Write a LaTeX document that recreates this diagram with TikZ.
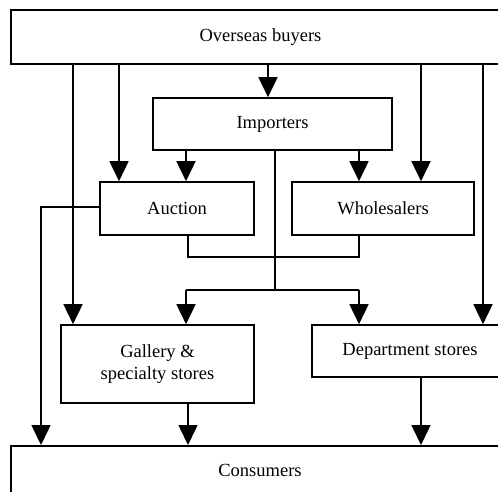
\documentclass[tikz,border=0pt]{standalone}
\usepackage{fontspec}
\setmainfont{Liberation Serif}
\usetikzlibrary{arrows.meta}
\begin{document}
\begin{tikzpicture}[x=1pt,y=-1pt,
  box/.style={draw,line width=1.6pt,rectangle,inner sep=0pt,align=center,
    font=\fontsize{18.5}{22}\selectfont},
  conn/.style={line width=1.6pt},
  arr/.style={line width=1.6pt,-{Triangle[length=20pt,width=19pt]}}]
\clip (0,0) rectangle (498,492);
\useasboundingbox (0,0) rectangle (498,492);
% columns
\coordinate (xL) at (41,0);
\coordinate (xA) at (73,0);
\coordinate (xB) at (119,0);
\coordinate (xC) at (186,0);
\coordinate (xC2) at (188,0);
\coordinate (xD) at (268,0);
\coordinate (xE) at (275,0);
\coordinate (xF) at (359,0);
\coordinate (xG) at (421,0);
\coordinate (xH) at (483,0);
% boxes
\node[box,minimum width=499pt,minimum height=54pt] (ob) at (260.5,37) {Overseas buyers};
\node[box,minimum width=239pt,minimum height=52pt] (imp) at (272.5,124) {Importers};
\node[box,minimum width=154pt,minimum height=53pt] (auc) at (177,208.5) {Auction};
\node[box,minimum width=182pt,minimum height=53pt] (who) at (383,208.5) {Wholesalers};
\node[box,minimum width=193pt,minimum height=78pt] (gal) at (157.5,364) {Gallery \&\\specialty stores};
\node[box,minimum width=196pt,minimum height=52pt] (dep) at (410,351) {Department stores};
\node[box,minimum width=498pt,minimum height=70pt,anchor=north] (con) at (260,445) {\raisebox{20pt}{Consumers}};
% junctions
\coordinate (j1) at (275,290);
\coordinate (j2) at (188,257);
\coordinate (j3) at (359,257);
\coordinate (j4) at (41,207);
% overseas buyers
\draw[arr] (ob.south -| xA) -- (gal.north -| xA);
\draw[arr] (ob.south -| xB) -- (auc.north -| xB);
\draw[arr] (ob.south -| xD) -- (imp.north -| xD);
\draw[arr] (ob.south -| xG) -- (who.north -| xG);
\draw[arr] (ob.south -| xH) -- (dep.north -| xH);
% importers
\draw[arr] (imp.south -| xC) -- (auc.north -| xC);
\draw[arr] (imp.south -| xF) -- (who.north -| xF);
\draw[conn] (imp.south -| xE) -- (j1);
\draw[conn] (j1 -| xC) -- (j1 -| xF);
\draw[arr] (j1 -| xC) -- (gal.north -| xC);
\draw[arr] (j1 -| xF) -- (dep.north -| xF);
% auction / wholesalers merge
\draw[conn] (auc.south -| xC2) -- (j2) -- (j3) -- (who.south -| xF);
% auction to consumers
\draw[arr] (auc.west |- j4) -- (j4) -- (con.north -| xL);
% retailers to consumers
\draw[arr] (gal.south -| xC2) -- (con.north -| xC2);
\draw[arr] (dep.south -| xG) -- (con.north -| xG);
\end{tikzpicture}
\end{document}
